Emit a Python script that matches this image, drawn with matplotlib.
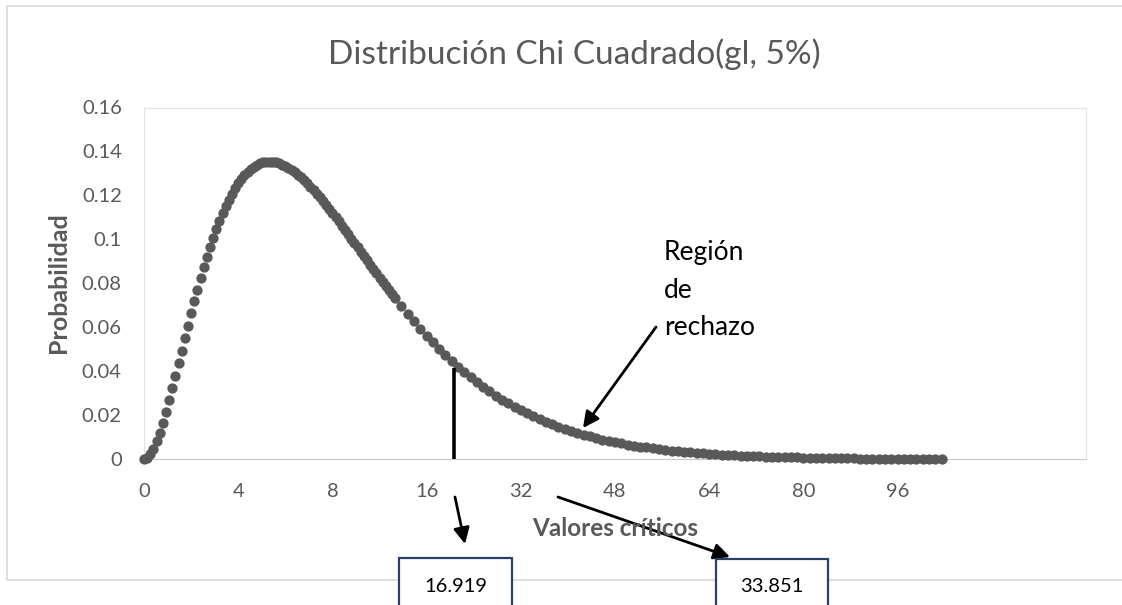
import numpy as np
import matplotlib
matplotlib.use("Agg")
import matplotlib.pyplot as plt
from matplotlib.patches import Rectangle

plt.rcParams['font.family'] = ['Lato', 'DejaVu Sans']

# chi-square curve
x_fine = np.round(np.arange(0, 8.05, 0.1), 1)
y_fine = [0.0, 0.000595, 0.002262, 0.004841, 0.008187, 0.012169, 0.016668, 0.021581, 0.026813, 0.032280,
          0.037908, 0.043632, 0.049393, 0.055141, 0.060832, 0.066427, 0.071893, 0.077202, 0.082330, 0.087258,
          0.091970, 0.096452, 0.100694, 0.104688, 0.108430, 0.111916, 0.115145, 0.118116, 0.120833, 0.123296,
          0.125511, 0.127481, 0.129214, 0.130714, 0.131989, 0.133046, 0.133892, 0.134536, 0.134986, 0.135249,
          0.135335, 0.135252, 0.135008, 0.134612, 0.134072, 0.133396, 0.132593, 0.131669, 0.130634, 0.129495,
          0.128258, 0.126932, 0.125523, 0.124037, 0.122483, 0.120864, 0.119188, 0.117459, 0.115686, 0.113872,
          0.112021, 0.110139, 0.108230, 0.106300, 0.104351, 0.102388, 0.100414, 0.098433, 0.096448, 0.094464,
          0.092478, 0.090502, 0.088530, 0.086566, 0.084618, 0.082680, 0.080759, 0.078856, 0.076970, 0.075107,
          0.073264]
x_tail = np.round(np.arange(8.2, 25.45, 0.2), 1)
y_tail = [0.069648, 0.066132, 0.062723, 0.059421, 0.056239, 0.053175, 0.050227, 0.047403, 0.044698, 0.042112,
          0.039644, 0.037292, 0.035054, 0.032926, 0.030906, 0.028992, 0.027178, 0.025462, 0.023840, 0.022309,
          0.020865, 0.019503, 0.018221, 0.017015, 0.015880, 0.014815, 0.013814, 0.012876, 0.011995, 0.011171,
          0.010398, 0.009676, 0.009000, 0.008368, 0.007778, 0.007227, 0.006712, 0.006232, 0.005785, 0.005367,
          0.004979, 0.004617, 0.004280, 0.003967, 0.003675, 0.003404, 0.003152, 0.002918, 0.002701, 0.002499,
          0.002312, 0.002138, 0.001977, 0.001827, 0.001689, 0.001560, 0.001442, 0.001331, 0.001229, 0.001135,
          0.001048, 0.000967, 0.000892, 0.000823, 0.000759, 0.000700, 0.000645, 0.000594, 0.000548, 0.000505,
          0.000465, 0.000428, 0.000394, 0.000363, 0.000334, 0.000307, 0.000283, 0.000260, 0.000239, 0.000220,
          0.000202, 0.000186, 0.000171, 0.000157, 0.000144, 0.000132, 0.000122]

xs = np.concatenate([x_fine, x_tail])
ys = np.array(y_fine + y_tail)

x_tick_pos = [0, 3, 6, 9, 12, 15, 18, 21, 24]
x_tick_lab = ['0', '4', '8', '16', '32', '48', '64', '80', '96']
y_ticks = [0, 0.02, 0.04, 0.06, 0.08, 0.1, 0.12, 0.14, 0.16]
y_tick_lab = ['0', '0.02', '0.04', '0.06', '0.08', '0.1', '0.12', '0.14', '0.16']

crit_x = 9.88
crit_y = 0.0414
crit_vals = ['16.919', '33.851']

W, H = 1122, 605
gray = '#595959'

def fp(x, y):
    # figure pixels measured from top-left
    return (x, H - y)

fig = plt.figure(figsize=(W / 100, H / 100), dpi=100)
fig.patch.set_facecolor('white')

# outer chart frame
fig.add_artist(Rectangle((7 / W, 1 - 580 / H), 1.2, 574 / H, transform=fig.transFigure,
                         fill=False, edgecolor='#d9d9d9', linewidth=1.2))

ax = fig.add_axes([144 / W, 1 - 459.3 / H, 942 / W, 351.8 / H])
ax.plot(xs, ys, 'o', ms=7.4, mew=0, color=gray, clip_on=False, zorder=3)
ax.set_xlim(0, 30)
ax.set_ylim(0, 0.16)
ax.set_xticks(x_tick_pos)
ax.set_xticklabels(x_tick_lab)
ax.set_yticks(y_ticks)
ax.set_yticklabels(y_tick_lab)
ax.tick_params(length=0, labelsize=14.5, labelcolor=gray)
ax.tick_params(axis='y', pad=16)
ax.tick_params(axis='x', pad=17)
for s in ax.spines.values():
    s.set_color('#e3e3e3')
    s.set_linewidth(0.8)
ax.spines['bottom'].set_color('#c8c8c8')

# critical value line
ax.vlines(crit_x, 0, crit_y, color='black', linewidth=2.6, zorder=4)

fig.text(574 / W, 1 - 54 / H, 'Distribución Chi Cuadrado(gl, 5%)', ha='center', va='center',
         fontsize=24, color=gray, fontweight='normal')
fig.text(58 / W, 1 - 283 / H, 'Probabilidad', rotation=90, ha='center', va='center',
         fontsize=18, color=gray, fontweight='bold')
fig.text(615 / W, 1 - 528 / H, 'Valores críticos', ha='center', va='center',
         fontsize=17.5, color=gray, fontweight='bold')

fig.text(664 / W, 1 - 290 / H, 'Región\nde\nrechazo', ha='left', va='center',
         fontsize=19, color='black', linespacing=1.62)

arrow = dict(arrowstyle='-|>', color='black', lw=2.0, mutation_scale=24, shrinkA=0, shrinkB=0)
ax.annotate('', xy=fp(583, 428), xycoords='figure pixels', xytext=fp(656, 327),
            textcoords='figure pixels', arrowprops=arrow, annotation_clip=False)
ax.annotate('', xy=fp(465, 544), xycoords='figure pixels', xytext=fp(455, 497),
            textcoords='figure pixels', arrowprops=arrow, annotation_clip=False)
ax.annotate('', xy=fp(730, 557), xycoords='figure pixels', xytext=fp(558, 497),
            textcoords='figure pixels', arrowprops=arrow, annotation_clip=False)

# boxes with critical values
for (bx0, bx1, top), label in zip([(399, 512, 558), (716, 828, 559)], crit_vals):
    fig.add_artist(Rectangle((bx0 / W, -0.05), (bx1 - bx0) / W, 0.05 + (H - top) / H,
                             transform=fig.transFigure, fill=True, facecolor='white',
                             edgecolor='#2b3f6b', linewidth=1.6))
    fig.text((bx0 + bx1) / 2 / W, 1 - 586 / H, label, ha='center', va='center',
             fontsize=14.5, color='black')

fig.savefig('out.png', dpi=100)
